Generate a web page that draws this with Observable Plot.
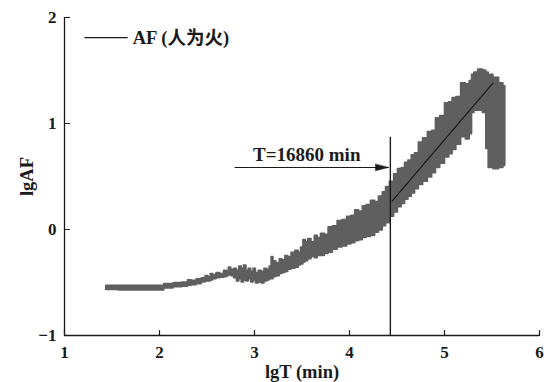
<!DOCTYPE html>
<html>
<head>
<meta charset="utf-8">
<script src="https://cdn.jsdelivr.net/npm/d3@7"></script>
<script src="https://cdn.jsdelivr.net/npm/@observablehq/plot@0.6"></script>
<style>
  html, body { margin: 0; padding: 0; background: #fff; }
</style>
</head>
<body>
<div id="chart"></div>
<script>
// ---- data ----
const xTicks = [1, 2, 3, 4, 5, 6];
const yTicks = [-1, 0, 1, 2];
const yTickLabels = ["\u22121", "0", "1", "2"];

// noisy band of lgAF vs lgT (upper / lower edges)
const bandX  = [1.44, 1.70, 2.00, 2.10, 2.20, 2.28, 2.32, 2.36, 2.42, 2.47,
                2.50, 2.53, 2.55, 2.58, 2.62, 2.66, 2.70, 2.72, 2.74, 2.77,
                2.80, 2.83, 2.85, 2.88, 2.90, 2.93, 2.95, 2.98, 3.00, 3.03,
                3.06, 3.09, 3.12, 3.15, 3.17, 3.19, 3.21, 3.25, 3.28, 3.31,
                3.34, 3.37, 3.41, 3.45, 3.48, 3.50, 3.53, 3.55, 3.58, 3.62,
                3.65, 3.68, 3.72, 3.76, 3.80, 3.85, 3.90, 3.95, 4.00, 4.04,
                4.08, 4.12, 4.16, 4.20, 4.25, 4.29, 4.33, 4.37, 4.40, 4.45,
                4.49, 4.53, 4.57, 4.60, 4.64, 4.67, 4.71, 4.75, 4.80, 4.85,
                4.89, 4.93, 4.98, 5.03, 5.07, 5.10, 5.15, 5.20, 5.25, 5.28,
                5.30, 5.33, 5.38, 5.43, 5.45, 5.48, 5.55, 5.60, 5.64];
const bandHi = [-0.53, -0.53, -0.53, -0.515, -0.505, -0.50, -0.48, -0.485, -0.47, -0.46,
                -0.44, -0.45, -0.42, -0.43, -0.41, -0.42, -0.39, -0.40, -0.36, -0.38,
                -0.37, -0.39, -0.35, -0.37, -0.34, -0.39, -0.37, -0.40, -0.37, -0.41,
                -0.39, -0.40, -0.37, -0.38, -0.35, -0.26, -0.30, -0.32, -0.28, -0.29,
                -0.25, -0.26, -0.22, -0.20, -0.22, -0.17, -0.10, -0.12, -0.09, -0.12,
                -0.06, -0.08, -0.04, -0.05, 0.02, 0.03, 0.08, 0.09, 0.12, 0.13,
                0.18, 0.17, 0.22, 0.23, 0.27, 0.26, 0.31, 0.35, 0.40, 0.45,
                0.52, 0.57, 0.58, 0.63, 0.65, 0.70, 0.72, 0.82, 0.86, 0.92,
                0.93, 1.05, 1.07, 1.19, 1.20, 1.24, 1.25, 1.38, 1.37, 1.40,
                1.46, 1.48, 1.51, 1.50, 1.48, 1.46, 1.43, 1.38, 1.35];
const bandLo = [-0.57, -0.575, -0.575, -0.555, -0.545, -0.54, -0.53, -0.525, -0.515, -0.50,
                -0.49, -0.49, -0.48, -0.47, -0.46, -0.455, -0.45, -0.44, -0.43, -0.44,
                -0.46, -0.49, -0.47, -0.50, -0.48, -0.49, -0.47, -0.50, -0.48, -0.51,
                -0.50, -0.51, -0.49, -0.48, -0.47, -0.47, -0.45, -0.44, -0.42, -0.41,
                -0.40, -0.38, -0.37, -0.36, -0.34, -0.33, -0.31, -0.30, -0.28, -0.26,
                -0.27, -0.25, -0.25, -0.23, -0.22, -0.19, -0.17, -0.16, -0.14, -0.13,
                -0.11, -0.10, -0.08, -0.07, -0.06, -0.03, -0.01, 0.03, 0.06, 0.12,
                0.16, 0.21, 0.24, 0.28, 0.31, 0.34, 0.38, 0.42, 0.45, 0.49,
                0.53, 0.58, 0.62, 0.68, 0.71, 0.75, 0.80, 0.87, 0.85, 0.90,
                1.10, 1.12, 1.12, 1.10, 0.76, 0.58, 0.57, 0.58, 0.60];

// fitted line
const fitX = [4.45, 5.51];
const fitY = [0.27, 1.38];

// threshold marker
const thresholdX = [4.43];
const thresholdTop = 0.87;
const arrowX1 = 2.79, arrowX2 = 4.41, arrowY = 0.585;
const labelText = "T=16860 min";
const labelX = 3.55, labelY = 0.70;

// legend
const legendX = [1.21, 1.665];
const legendY = 1.81;
const legendText = "AF (人为火)";

const n = Math.min(bandX.length, bandHi.length, bandLo.length);
const band = bandX.slice(0, n).map((x, i) => ({x, hi: bandHi[i], lo: bandLo[i]}));
const fit = fitX.map((x, i) => ({x, y: fitY[i]}));

const triShape = {
  draw(context, l, r) {
    context.moveTo(0, -l);
    context.lineTo(3.3, 0);
    context.lineTo(-3.3, 0);
    context.closePath();
  }
};
const tickUp = {
  draw(context, l) { context.moveTo(0, 0); context.lineTo(0, -l); }
};

const ink = "#1a1a1a";
const serif = "'Liberation Serif', 'Noto Sans CJK SC', serif";

const chart = Plot.plot({
  width: 550,
  height: 382,
  marginLeft: 64,
  marginRight: 11,
  marginTop: 17,
  marginBottom: 47,
  x: {domain: [1, 6]},
  y: {domain: [-1, 2]},
  style: {fontFamily: serif, color: ink, background: "#fff"},
  marks: [
    Plot.areaY(band, {x: "x", y1: "lo", y2: "hi", fill: "#5f5f5f", stroke: "#5f5f5f", strokeWidth: 1.6, strokeLinejoin: "round", curve: "step"}),
    Plot.line(fit, {x: "x", y: "y", stroke: ink, strokeWidth: 1.2}),
    Plot.ruleX(thresholdX, {y1: -1, y2: thresholdTop, stroke: ink, strokeWidth: 1.4}),
    Plot.link([{x1: arrowX1, x2: arrowX2, y: arrowY}], {x1: "x1", x2: "x2", y1: "y", y2: "y", stroke: ink, strokeWidth: 1.2}),
    Plot.vector([{x: arrowX2, y: arrowY}], {x: "x", y: "y", length: 13, rotate: 90, anchor: "end", shape: triShape, fill: ink, stroke: ink, strokeWidth: 0.5}),
    Plot.text([labelText], {x: labelX, y: labelY, text: d => d, fontFamily: serif, fontWeight: "bold", fontSize: 19, fill: ink}),
    // legend
    Plot.link([{x1: legendX[0], x2: legendX[1], y: legendY}], {x1: "x1", x2: "x2", y1: "y", y2: "y", stroke: ink, strokeWidth: 1.2}),
    Plot.text([legendText], {x: legendX[1], y: legendY, dx: 5, text: d => d, textAnchor: "start", fontFamily: serif, fontWeight: "bold", fontSize: 18.5, fill: ink}),
    // axes
    Plot.ruleX([1], {stroke: ink, strokeWidth: 1.3}),
    Plot.ruleY([-1], {stroke: ink, strokeWidth: 1.3}),
    Plot.vector(xTicks, {x: d => d, y: -1, length: 5, rotate: 0, anchor: "start", shape: tickUp, stroke: ink, strokeWidth: 1.2}),
    Plot.vector(yTicks, {x: 1, y: d => d, length: 5, rotate: 90, anchor: "start", shape: tickUp, stroke: ink, strokeWidth: 1.2}),
    Plot.axisX(xTicks, {tickSize: 0, tickPadding: 10, fontSize: 17, fontWeight: "bold", fontFamily: serif, label: null}),
    Plot.axisY(yTicks, {tickSize: 0, tickPadding: 8, fontSize: 17, fontWeight: "bold", fontFamily: serif, label: null, tickFormat: d => yTickLabels[yTicks.indexOf(d)]}),
    Plot.axisX({tickSize: 0, ticks: [], label: "lgT (min)", labelAnchor: "center", labelArrow: false, labelOffset: 42, fontSize: 18.5, fontWeight: "bold", fontFamily: serif}),
    Plot.axisY({tickSize: 0, ticks: [], label: "lgAF", labelAnchor: "center", labelArrow: false, labelOffset: 45, fontSize: 18.5, fontWeight: "bold", fontFamily: serif})
  ]
});
document.getElementById("chart").appendChild(chart);
</script>
</body>
</html>
